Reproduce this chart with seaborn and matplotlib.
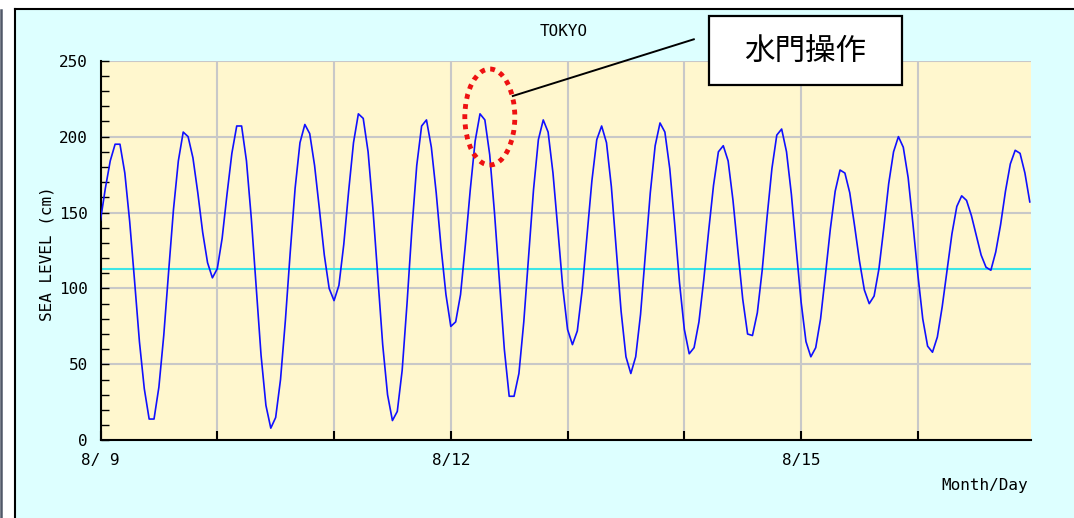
import numpy as np
import pandas as pd
import seaborn as sns
import matplotlib.pyplot as plt
from matplotlib.patches import Rectangle, Ellipse
from matplotlib.lines import Line2D
from matplotlib.ticker import MultipleLocator

# hourly sea level at TOKYO (cm), 8/9 00:00 .. 8/16 23:00, one day per row
sea_level = [
    145, 166, 184, 195, 195, 176, 144, 105, 65, 34, 14, 14, 35, 69, 111, 152, 184, 203, 200, 186, 163, 137, 117, 107,
    113, 133, 162, 189, 207, 207, 184, 146, 101, 56, 23, 8, 15, 40, 79, 124, 166, 196, 208, 202, 181, 152, 122, 100,
    92, 102, 129, 164, 196, 215, 212, 190, 152, 107, 63, 30, 13, 19, 46, 90, 139, 181, 207, 211, 193, 163, 127, 96,
    75, 78, 96, 129, 165, 197, 215, 211, 188, 149, 104, 60, 29, 29, 44, 78, 122, 165, 198, 211, 203, 176, 139, 101,
    73, 63, 72, 99, 135, 171, 198, 207, 196, 167, 126, 85, 55, 44, 55, 83, 123, 163, 194, 209, 203, 179, 143, 104,
    73, 57, 61, 78, 106, 138, 168, 190, 194, 184, 158, 125, 93, 70, 69, 84, 112, 147, 179, 201, 205, 190, 162, 126,
    91, 65, 55, 61, 80, 109, 139, 164, 178, 176, 163, 141, 118, 99, 90, 95, 113, 140, 169, 190, 200, 193, 173, 142,
    109, 80, 62, 58, 68, 88, 112, 136, 154, 161, 158, 148, 135, 122, 114, 112, 124, 142, 164, 182, 191, 189, 176, 157,
]
mean_level = 112.5
day_labels = ["8/ 9", "", "", "8/12", "", "", "8/15", ""]
station = "TOKYO"
note = "水門操作"

W, H = 1074, 518


def fx(x):
    return x / W


def fy(y):
    return 1 - y / H


df = pd.DataFrame({"hour": np.arange(len(sea_level)), "level": sea_level})

plt.rcParams["font.family"] = ["DejaVu Sans Mono"]
fig = plt.figure(figsize=(W / 100, H / 100), dpi=100)
fig.patch.set_facecolor("white")

# 画面の枠（水色の背景 + 黒い縁）
fig.add_artist(Rectangle((fx(15), 0), 1 - fx(15), fy(9), transform=fig.transFigure,
                         facecolor="#DDFFFF", edgecolor="none", zorder=-2))
fig.add_artist(Line2D([fx(14.5), fx(14.5)], [0, fy(8.5)], color="black", lw=1.5,
                      transform=fig.transFigure, zorder=-1))
fig.add_artist(Line2D([fx(14.5), 1], [fy(8.5), fy(8.5)], color="black", lw=1.5,
                      transform=fig.transFigure, zorder=-1))
fig.add_artist(Line2D([fx(1.2), fx(1.2)], [0, fy(10)], color="#505868", lw=1.8,
                      transform=fig.transFigure, zorder=-1))

ax = fig.add_axes([fx(100.5), fy(440.3), fx(1031) - fx(100.5), fy(60.7) - fy(440.3)])
ax.set_facecolor("#FFF7CE")

sns.lineplot(data=df, x="hour", y="level", ax=ax, color="#1010FF", lw=1.2, zorder=3)
ax.axhline(mean_level, color="#3CE6E6", lw=1.5, zorder=2)

ax.set_xlim(0, 191.25)
ax.set_ylim(0, 250)
ax.set_xticks(np.arange(len(day_labels)) * 24)
ax.set_xticklabels(day_labels)
ax.yaxis.set_major_locator(MultipleLocator(50))
ax.yaxis.set_minor_locator(MultipleLocator(10))
ax.grid(True, which="major", color="#C8C8C8", lw=1.5)
ax.set_axisbelow(True)

for s in ["top", "right"]:
    ax.spines[s].set_visible(False)
for s in ["left", "bottom"]:
    ax.spines[s].set_color("black")
    ax.spines[s].set_linewidth(1.5)

ax.tick_params(axis="x", direction="in", length=6.5, width=1.5, pad=9, labelsize=11.5)
ax.tick_params(axis="y", which="both", direction="in", length=5.8, width=1, pad=9, labelsize=11.5)
ax.set_xlabel("")
ax.set_ylabel("")

fig.text(fx(564), fy(31), station, ha="center", va="center", fontsize=11.5)
fig.text(fx(47), fy(253.5), "SEA LEVEL (cm)", ha="center", va="center", rotation=90, fontsize=11.5)
fig.text(fx(1028), fy(485.5), "Month/Day", ha="right", va="center", fontsize=11.5)

# 注記：水門操作
fig.add_artist(Ellipse((fx(489.8), fy(117)), 50 / W, 96 / H, transform=fig.transFigure,
                       fill=False, edgecolor="#EE1111", lw=3.5, linestyle=(0, (1, 1.1)), zorder=5))
fig.add_artist(Line2D([fx(512.8), fx(693.8)], [fy(96), fy(39.3)], color="black", lw=1.4,
                      transform=fig.transFigure, zorder=5))
fig.add_artist(Rectangle((fx(709), fy(85)), (902 - 709) / W, (85 - 16) / H, transform=fig.transFigure,
                         facecolor="white", edgecolor="black", lw=1.6, zorder=5))
fig.text(fx(805.5), fy(51), note, ha="center", va="center", fontsize=22,
         family=["Noto Sans CJK JP", "DejaVu Sans"], zorder=6)

fig.savefig("out.png", dpi=100)
